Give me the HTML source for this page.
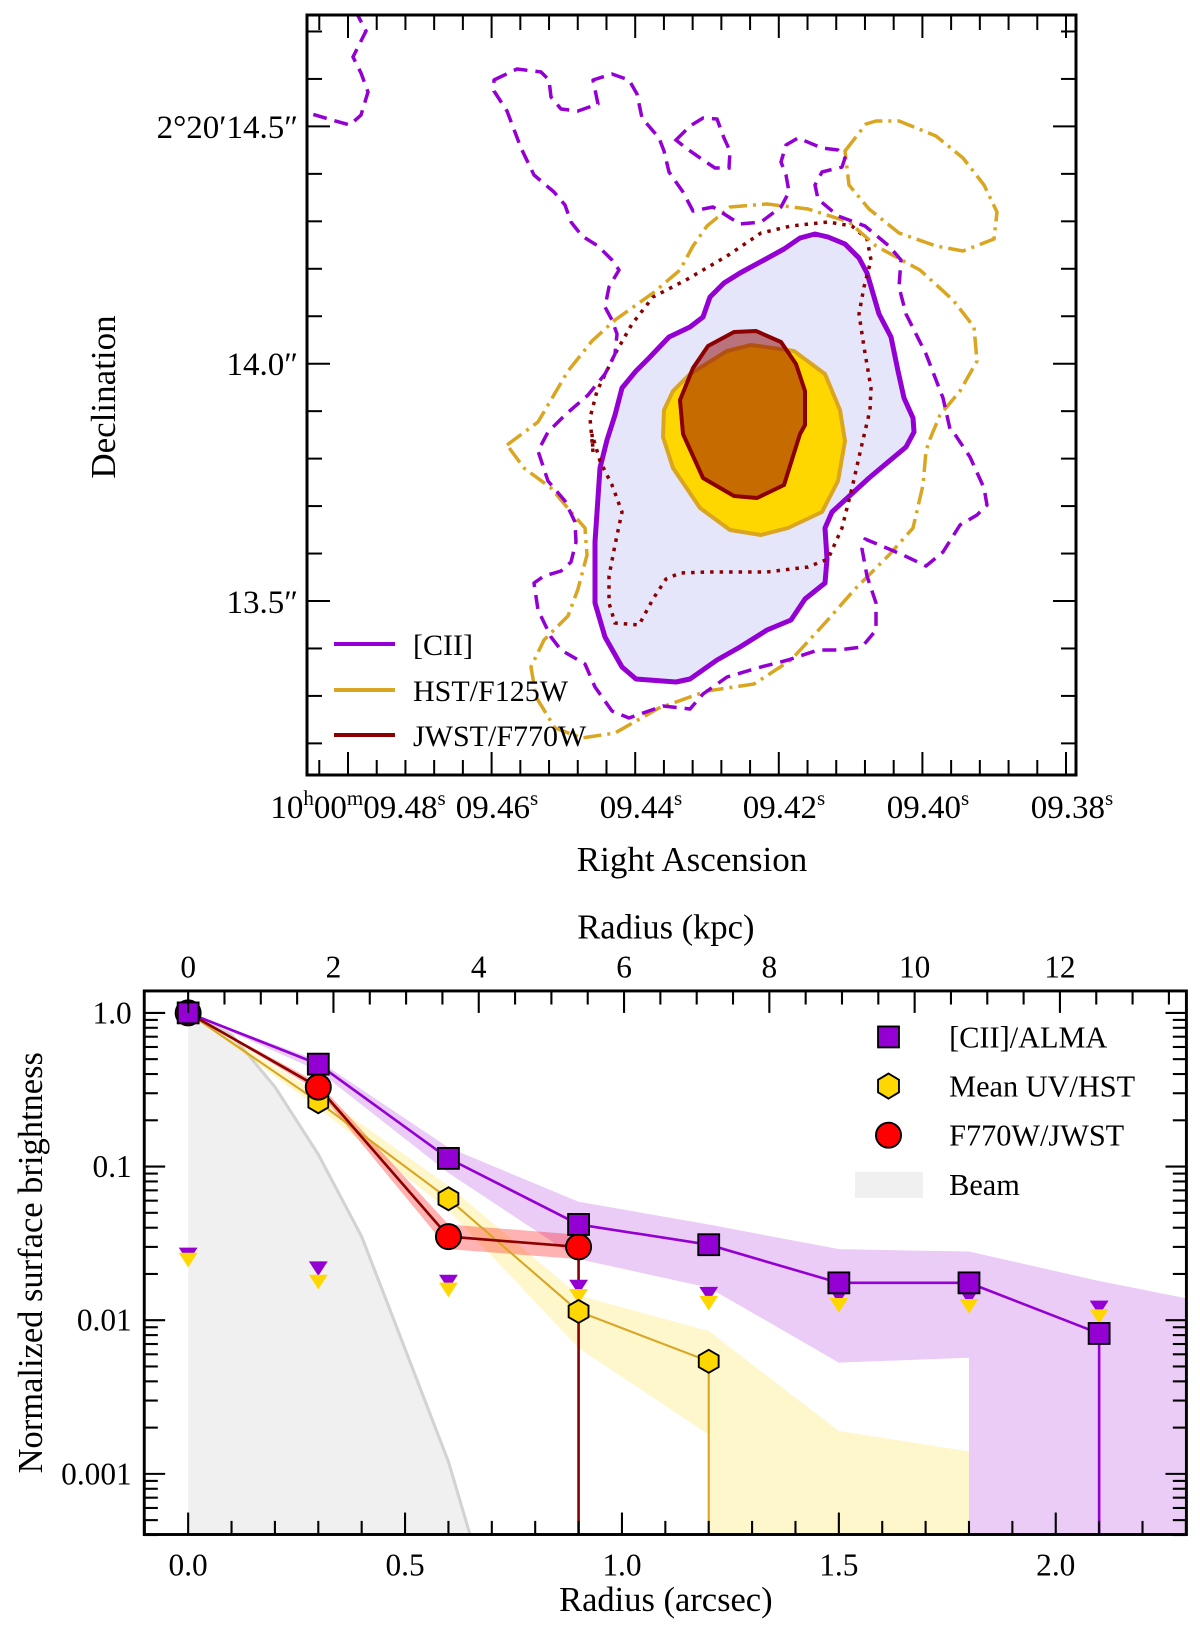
<!DOCTYPE html>
<html><head><meta charset="utf-8"><style>
html,body{margin:0;padding:0;background:#fff;}
svg{display:block;}
text{font-family:"Liberation Serif","DejaVu Serif",serif;fill:#000;}
</style></head><body>
<svg id="fig" width="1200" height="1638" viewBox="0 0 1200 1638" xmlns="http://www.w3.org/2000/svg">
<defs>
<clipPath id="topclip"><rect x="307" y="15" width="769" height="760"/></clipPath>
<clipPath id="botclip"><rect x="138" y="948" width="997" height="520"/></clipPath>
</defs>

<g id="top-panel">
<g clip-path="url(#topclip)">
<polygon fill="#e6e6fa" stroke="#9400d3" stroke-width="5" stroke-linejoin="round"
points="595,603 595,542 600,468 607,440 615,415 622,388 636,371 649,358 669,337 690,327 703,317 710,297 724,283 740,273 764,260 784,249 800,238 815,234 828,237 845,244 859,258 867,273 872,290 879,314 891,337 898,371 904,398 913,418 914,432 906,447 869,478 832,512 825,528 827,559 825,583 805,599 791,620 767,630 740,647 717,660 690,679 676,682 636,679 622,667 605,637"/>
<polygon fill="#ffd700" stroke="#daa520" stroke-width="4" stroke-linejoin="round"
points="751,345 794,351 825,374 840,410 845,441 838,481 822,512 788,528 761,535 730,530 700,508 673,468 663,437 664,410 673,391 690,374 727,351"/>
<polygon fill="#8b0000" fill-opacity="0.5" stroke="#8b0000" stroke-width="4" stroke-linejoin="round"
points="734,332 756,331 781,342 796,364 805,391 805,425 800,434 784,485 757,498 734,496 703,478 683,434 680,400 693,368 708,346"/>
<polygon fill="none" stroke="#8b0000" stroke-width="3.5" stroke-dasharray="3.5 6"
points="593,452 590,418 597,391 615,354 632,324 653,297 686,280 727,256 761,233 791,226 828,222 852,226 867,239 871,260 864,287 859,314 864,347 871,388 870,410 862,444 852,488 842,528 828,559 808,567 767,572 707,572 680,573 666,579 653,599 639,625 615,623 609,603 609,576 615,545 622,512 612,485 600,461 592,434"/>
<polygon fill="none" stroke="#daa520" stroke-width="3.5" stroke-dasharray="18 6 3 6" stroke-linejoin="round"
points="507,445 538,422 568,371 592,341 615,320 653,293 680,270 693,246 707,226 730,207 767,204 808,209 849,222 876,246 920,270 953,300 974,327 977,361 960,391 940,415 930,439 926,451 923,485 913,528 889,555 855,589 825,623 791,660 754,684 707,691 659,708 615,733 582,738 555,728 536,697 531,667 544,640 568,616 578,589 587,555 585,528 571,512 551,488 524,468"/>
<polygon fill="none" stroke="#daa520" stroke-width="3.5" stroke-dasharray="18 6 3 6" stroke-linejoin="round"
points="845,151 866,124 876,121 899,121 936,136 963,158 984,185 997,212 994,239 963,251 936,246 899,233 869,209 849,185"/>
<polygon fill="none" stroke="#9400d3" stroke-width="3.5" stroke-dasharray="14 8" stroke-linejoin="round"
points="494,80 517,69 541,72 549,80 551,97 561,109 578,111 598,104 593,80 612,74 629,80 637,94 642,118 659,138 664,151 669,172 683,192 693,211 713,207 740,224 761,222 781,207 789,192 786,175 781,162 786,145 798,138 822,148 838,150 845,158 842,167 822,172 815,185 818,199 838,216 865,226 889,246 901,260 899,287 906,314 926,354 943,398 950,429 952,430 970,457 984,488 987,505 977,515 960,525 943,552 926,566 903,555 889,549 865,539 862,549 867,576 876,603 876,630 862,647 838,650 818,650 788,660 761,667 727,677 703,694 690,709 663,706 629,718 612,711 595,687 585,664 561,650 551,637 538,610 534,583 544,576 561,571 571,562 576,542 575,522 565,501 548,481 538,451 548,432 565,415 588,395 605,374 615,354 617,334 612,320 605,307 609,287 619,270 612,260 598,246 582,236 571,222 565,205 554,192 534,175 521,148 507,111 494,91"/>
<polygon fill="none" stroke="#9400d3" stroke-width="3.5" stroke-dasharray="14 8"
points="676,140 690,126 703,118 717,119 724,138 730,151 729,168 715,168 703,160 686,148"/>
<polyline fill="none" stroke="#9400d3" stroke-width="3.5" stroke-dasharray="14 8"
points="355,10 366,31 353,57 361,73 368,92 361,115 350,125 332,120 305,112"/>
</g>
<g id="top-ticks" stroke="#000" stroke-width="2"></g>
<rect x="307" y="15" width="769" height="760" fill="none" stroke="#000" stroke-width="3"/>

<g>
<line x1="334" y1="644" x2="395" y2="644" stroke="#9400d3" stroke-width="4"/>
<text x="413" y="655" font-size="30">[CII]</text>
<line x1="334" y1="690" x2="395" y2="690" stroke="#daa520" stroke-width="4"/>
<text x="413" y="701" font-size="30">HST/F125W</text>
<line x1="334" y1="735" x2="395" y2="735" stroke="#8b0000" stroke-width="4"/>
<text x="413" y="746" font-size="30">JWST/F770W</text>
</g>

<g font-size="33" text-anchor="end">
<text x="298" y="138">2°20′14.5″</text>
<text x="298" y="375">14.0″</text>
<text x="298" y="613">13.5″</text>
</g>
<g font-size="33" text-anchor="middle">
<text x="358" y="818">10<tspan font-size="21" dy="-13">h</tspan><tspan dy="13">00</tspan><tspan font-size="21" dy="-13">m</tspan><tspan dy="13">09.48</tspan><tspan font-size="21" dy="-13">s</tspan></text>
<text x="497" y="818">09.46<tspan font-size="21" dy="-13">s</tspan></text>
<text x="641" y="818">09.44<tspan font-size="21" dy="-13">s</tspan></text>
<text x="784" y="818">09.42<tspan font-size="21" dy="-13">s</tspan></text>
<text x="928" y="818">09.40<tspan font-size="21" dy="-13">s</tspan></text>
<text x="1072" y="818">09.38<tspan font-size="21" dy="-13">s</tspan></text>
</g>
<text x="692" y="871" font-size="35" text-anchor="middle">Right Ascension</text>
<text x="0" y="0" font-size="35" text-anchor="middle" transform="translate(115,397) rotate(-90)">Declination</text>
</g>

<g id="bottom-panel" transform="scale(1.0453)">
<g id="bot-plot" clip-path="url(#botclip)"></g>
<g id="bot-ticks" stroke="#000" stroke-width="2"></g>
<rect x="138" y="948" width="997" height="520" fill="none" stroke="#000" stroke-width="2.8"/>
<g id="bot-labels" font-size="30"></g>
<text x="637" y="1541" font-size="33" text-anchor="middle">Radius (arcsec)</text>
<text x="637" y="898" font-size="33" text-anchor="middle">Radius (kpc)</text>
<text x="0" y="0" font-size="33" text-anchor="middle" transform="translate(40,1208) rotate(-90)">Normalized surface brightness</text>
<g>
<rect x="840" y="982" width="20" height="20" fill="#9400d3" stroke="#000" stroke-width="1.8"/>
<text x="908" y="1002" font-size="29">[CII]/ALMA</text>
<polygon points="850,1027 860,1033 860,1045 850,1051 840,1045 840,1033" fill="#ffd700" stroke="#000" stroke-width="1.8"/>
<text x="908" y="1049" font-size="29">Mean UV/HST</text>
<circle cx="850" cy="1086" r="12" fill="#ff0000" stroke="#000" stroke-width="1.8"/>
<text x="908" y="1096" font-size="29">F770W/JWST</text>
<rect x="818" y="1121" width="65" height="25" fill="#f0f0f0"/>
<text x="908" y="1143" font-size="29">Beam</text>
</g>
</g>
</svg>

<script>
const rArc = [0, 0.3, 0.6, 0.9, 1.2, 1.5, 1.8, 2.1];
const ciiVals = [1.0, 0.464, 0.113, 0.042, 0.031, 0.0175, 0.0175, 0.0082];
const ciiBandR = [0, 0.3, 0.6, 0.9, 1.2, 1.5, 1.8, 2.1, 2.3];
const ciiBandHi = [1.0, 0.49, 0.133, 0.059, 0.042, 0.029, 0.028, 0.018, 0.0139];
const ciiBandLo = [1.0, 0.42, 0.091, 0.025, 0.0163, 0.0053, 0.0057, null, null];
const uvR = [0, 0.3, 0.6, 0.9, 1.2];
const uvVals = [1.0, 0.264, 0.0617, 0.0114, 0.0054];
const uvBandR = [0, 0.3, 0.6, 0.9, 1.2, 1.5, 1.8];
const uvBandHi = [1.0, 0.30, 0.075, 0.0145, 0.0085, 0.0019, 0.0014];
const uvBandLo = [1.0, 0.24, 0.052, 0.0066, 0.0018, null, null];
const jwstR = [0, 0.3, 0.6, 0.9];
const jwstVals = [1.0, 0.329, 0.035, 0.030];
const jwstBandHi = [1.0, 0.35, 0.042, 0.036];
const jwstBandLo = [1.0, 0.31, 0.029, 0.025];
const ciiLimits = [0.027, 0.022, 0.018, 0.0167, 0.015, 0.0145, 0.0143, 0.0122];
const uvLimits = [0.025, 0.018, 0.016, 0.0145, 0.0131, 0.0127, 0.0125, 0.0107];
const beamR = [0, 0.1, 0.2, 0.3, 0.4, 0.5, 0.6, 0.65];
const beamVals = [1.0, 0.72, 0.33, 0.12, 0.035, 0.0065, 0.0012, 0.0004];
const arcTicks = [0.0, 0.5, 1.0, 1.5, 2.0];
const arcTickLabels = ["0.0", "0.5", "1.0", "1.5", "2.0"];
const kpcTicks = [0, 2, 4, 6, 8, 10, 12];
const yTicks = [1.0, 0.1, 0.01, 0.001];
const yTickLabels = ["1.0", "0.1", "0.01", "0.001"];

const NS = "http://www.w3.org/2000/svg";
const X = r => 180 + 415 * r;
const XK = k => 180 + 69.5 * k;
const Y = v => 969 - 147 * Math.log10(v);
const BOT = 1468;
function mk(tag, attrs, parent) {
  const e = document.createElementNS(NS, tag);
  for (const k in attrs) e.setAttribute(k, attrs[k]);
  parent.appendChild(e);
  return e;
}
const plot = document.getElementById('bot-plot');

let bp = beamR.map((r, i) => X(r) + ',' + Y(beamVals[i]));
const beamFill = mk('polygon', {points: bp.join(' ') + ' ' + X(beamR[beamR.length-1]) + ',' + BOT + ' ' + X(0) + ',' + BOT, fill: '#f0f0f0'}, plot);


const beamLine = mk('polyline', {points: bp.join(' '), fill: 'none', stroke: '#d3d3d3', 'stroke-width': 3}, plot);



function band(rs, hi, lo, color, op, name) {
  const up = rs.map((r, i) => X(r) + ',' + Y(hi[i]));
  const low = [];
  for (let i = 0; i < rs.length; i++) {
    if (lo[i] === null) low.push(X(rs[i]) + ',' + BOT);
    else {
      low.push(X(rs[i]) + ',' + Y(lo[i]));
      if (i + 1 < rs.length && lo[i + 1] === null) low.push(X(rs[i]) + ',' + BOT);
    }
  }
  const p = mk('polygon', {points: up.concat(low.reverse()).join(' '), fill: color, 'fill-opacity': op}, plot);
  
  
}
band(uvBandR, uvBandHi, uvBandLo, '#ffd700', 0.2, 'uv-error-band');
band(ciiBandR, ciiBandHi, ciiBandLo, '#9400d3', 0.2, 'cii-error-band');
band(jwstR, jwstBandHi, jwstBandLo, '#ff0000', 0.3, 'jwst-error-band');

function series(rs, vals, color, w, name) {
  const pts = rs.map((r, i) => X(r) + ',' + Y(vals[i]));
  const l = mk('polyline', {points: pts.join(' '), fill: 'none', stroke: color, 'stroke-width': w}, plot);
  
  
  const n = rs.length - 1;
  const d = mk('line', {x1: X(rs[n]), y1: Y(vals[n]), x2: X(rs[n]), y2: BOT, stroke: color, 'stroke-width': w}, plot);
  
  
}
series(uvR, uvVals, '#daa520', 2, 'uv');
series(jwstR, jwstVals, '#8b0000', 2.5, 'jwst');
series(rArc, ciiVals, '#9400d3', 2.5, 'cii');

rArc.forEach((r, i) => {
  const x = X(r);
  let y = Y(ciiLimits[i]);
  const t1 = mk('polygon', {points: (x-9)+','+(y-6)+' '+(x+9)+','+(y-6)+' '+x+','+(y+8), fill: '#9400d3'}, plot);
  
  
  y = Y(uvLimits[i]);
  const t2 = mk('polygon', {points: (x-9)+','+(y-6)+' '+(x+9)+','+(y-6)+' '+x+','+(y+8), fill: '#ffd700'}, plot);
  
  
});

uvR.forEach((r, i) => {
  const x = X(r), y = Y(uvVals[i]), s = 11;
  const pts = [];
  for (let k = 0; k < 6; k++) { const a = Math.PI/2 + k*Math.PI/3; pts.push((x + s*Math.cos(a)).toFixed(1) + ',' + (y - s*Math.sin(a)).toFixed(1)); }
  const h = mk('polygon', {points: pts.join(' '), fill: '#ffd700', stroke: '#000', 'stroke-width': 1.8}, plot);
  
  
});
jwstR.forEach((r, i) => {
  const c = mk('circle', {cx: X(r), cy: Y(jwstVals[i]), r: 12, fill: '#ff0000', stroke: '#000', 'stroke-width': 1.8}, plot);
  
  
});
rArc.forEach((r, i) => {
  const s = mk('rect', {x: X(r) - 10, y: Y(ciiVals[i]) - 10, width: 20, height: 20, fill: '#9400d3', stroke: '#000', 'stroke-width': 1.8}, plot);
  
  
});

const bt = document.getElementById('bot-ticks');
const bl = document.getElementById('bot-labels');
function tk(x1, y1, x2, y2) { const t = mk('line', {x1, y1, x2, y2}, bt);   }
for (let i = -1; i <= 23; i++) { const r = i / 10, x = X(r); const major = i % 5 === 0; tk(x, BOT, x, BOT - (major ? 21 : 13)); }
for (let k = 0; k <= 27; k++) { const x = XK(k / 2); if (x > 1134) break; tk(x, 948, x, 948 + (k % 4 === 0 ? 21 : 13)); }
for (let d = -4; d <= 0; d++) for (let m = 1; m <= 9; m++) {
  const v = m * Math.pow(10, d); if (v < 4.0e-4 || v > 1.39) continue;
  const y = Y(v), L = m === 1 ? 20 : 13;
  tk(138, y, 138 + L, y); tk(1135, y, 1135 - L, y);
}
arcTicks.forEach((r, i) => { const t = mk('text', {x: X(r), y: 1507, 'text-anchor': 'middle'}, bl); t.textContent = arcTickLabels[i];   });
kpcTicks.forEach(k => { const t = mk('text', {x: XK(k), y: 935, 'text-anchor': 'middle'}, bl); t.textContent = String(k);   });
yTicks.forEach((v, i) => { const t = mk('text', {x: 126, y: Y(v) + 10, 'text-anchor': 'end'}, bl); t.textContent = yTickLabels[i];   });

const tt = document.getElementById('top-ticks');
function tk2(x1, y1, x2, y2) { const t = mk('line', {x1, y1, x2, y2}, tt);   }
for (let k = -1; k <= 26; k++) {
  const x = 348 + 28.72 * k; if (x < 308 || x > 1075) continue;
  const L = ((k % 5) + 5) % 5 === 0 ? 23 : 15;
  tk2(x, 775, x, 775 - L); tk2(x, 15, x, 15 + L);
}
for (let k = -3; k <= 14; k++) {
  const y = 126.4 + 47.46 * k; if (y < 16 || y > 774) continue;
  const L = ((k % 5) + 5) % 5 === 0 ? 23 : 15;
  tk2(307, y, 307 + L, y); tk2(1076, y, 1076 - L, y);
}
</script>
</body></html>
